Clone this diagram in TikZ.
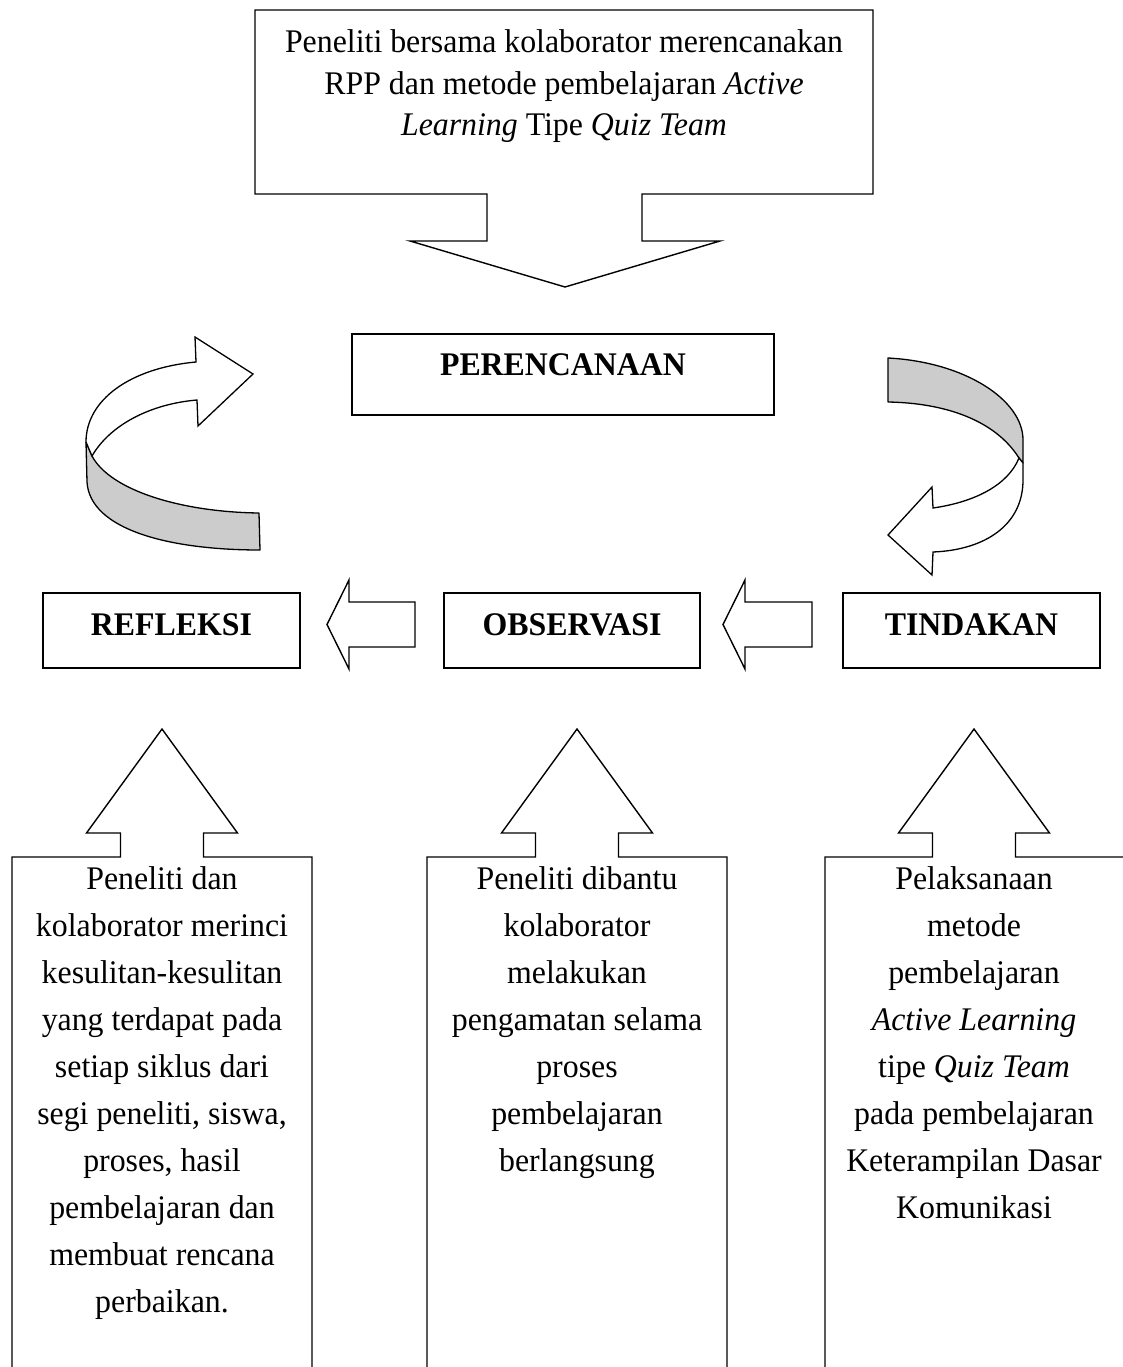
\documentclass[tikz,border=0pt]{standalone}
\usepackage{fontspec}
\setmainfont[FakeStretch=0.965]{Liberation Serif}
\begin{document}
\begin{tikzpicture}[x=1pt,y=-1pt,
  outl/.style={draw=black,line width=1.4pt,line join=miter},
  txt/.style={anchor=base,inner sep=0pt,font=\fontsize{33}{40}\selectfont},
  lblbox/.style={draw=black,line width=1.6pt,inner sep=0pt,text height=22pt,
     font=\fontsize{33}{40}\selectfont\bfseries},
  ribbon/.style={draw=black,line width=1.3pt,fill=gray!40,line join=round},
  face/.style={draw=black,line width=1.3pt,fill=white,line join=miter}]
\useasboundingbox (0,0) rectangle (1123,1367);
\clip (0,0) rectangle (1123,1367);

% top callout
\draw[outl] (255,10) -- (873,10) -- (873,194) -- (642,194) -- (642,241) -- (720,241)
  -- (565,287) -- (410,241) -- (487,241) -- (487,194) -- (255,194) -- cycle;
\node[txt] (t1) at (564,53) {Peneliti bersama kolaborator merencanakan};
\node[txt] (t2) at (564,94.5) {RPP dan metode pembelajaran \textit{Active}};
\node[txt] (t3) at (564,136) {\textit{Learning} Tipe \textit{Quiz Team}};

% label boxes
\node[lblbox,minimum width=422pt,minimum height=81pt,text depth=21pt] (per) at (563,374.5) {PERENCANAAN};
\node[lblbox,minimum width=257pt,minimum height=75pt,text depth=13pt] (ref) at (171.5,630.5) {REFLEKSI};
\node[lblbox,minimum width=256pt,minimum height=75pt,text depth=13pt] (obs) at (572,630.5) {OBSERVASI};
\node[lblbox,minimum width=257pt,minimum height=75pt,text depth=13pt] (tin) at (971.5,630.5) {TINDAKAN};

% straight block arrows
\draw[outl] (415,602) -- (349,602) -- (349,580) -- (327,624.5) -- (349,669) -- (349,647) -- (415,647) -- cycle;
\draw[outl] (812,602) -- (745,602) -- (745,580) -- (723,624.5) -- (745,669) -- (745,647) -- (812,647) -- cycle;

% left curved arrow
\draw[ribbon] (92,456) .. controls (110,490) and (180,512) .. (259,513) -- (260,550)
  .. controls (170,550) and (90,530) .. (87,482) -- (86,442) -- cycle;
\draw[face] (253,374) -- (195,337) -- (196,362) .. controls (130,368) and (86,400) .. (86,442)
  -- (92,456) .. controls (110,425) and (150,404) .. (197,400) -- (198,426) -- cycle;

% right curved arrow
\draw[ribbon] (888,358) .. controls (965,362) and (1023,400) .. (1023,440) -- (1023,463)
  -- (1019,458) .. controls (995,420) and (945,403) .. (888,402) -- cycle;
\draw[face] (1019,458) -- (1023,463) -- (1023,480) .. controls (1023,525) and (985,550) .. (933,552)
  -- (932,575) -- (888,535) -- (932,487) -- (933,508) .. controls (975,502) and (1008,485) .. (1019,458) -- cycle;

% bottom callouts
\draw[outl] (12,1390) -- (12,857) -- (120.5,857) -- (120.5,833) -- (86.5,833) -- (162,729)
  -- (237.5,833) -- (203.5,833) -- (203.5,857) -- (312,857) -- (312,1390);
\draw[outl] (427,1390) -- (427,857) -- (535.5,857) -- (535.5,833) -- (501.5,833) -- (577,729)
  -- (652.5,833) -- (618.5,833) -- (618.5,857) -- (727,857) -- (727,1390);
\draw[outl] (825,1390) -- (825,857) -- (932.5,857) -- (932.5,833) -- (898.5,833) -- (974,729)
  -- (1049.5,833) -- (1015.5,833) -- (1015.5,857) -- (1125,857) -- (1125,1390);

\foreach \t [count=\i] in {Peneliti dan, kolaborator merinci, kesulitan-kesulitan,
  yang terdapat pada, setiap siklus dari, {segi peneliti, siswa,}, {proses, hasil},
  pembelajaran dan, membuat rencana, perbaikan.}
  \node[txt] (a\i) at (162,{889+47*(\i-1)}) {\t};
\foreach \t [count=\i] in {Peneliti dibantu, kolaborator, melakukan, pengamatan selama,
  proses, pembelajaran, berlangsung}
  \node[txt] (b\i) at (577,{889+47*(\i-1)}) {\t};
\foreach \t [count=\i] in {Pelaksanaan, metode, pembelajaran, \textit{Active Learning},
  tipe \textit{Quiz Team}, pada pembelajaran, Keterampilan Dasar, Komunikasi}
  \node[txt] (c\i) at (974,{889+47*(\i-1)}) {\t};
\end{tikzpicture}
\end{document}
